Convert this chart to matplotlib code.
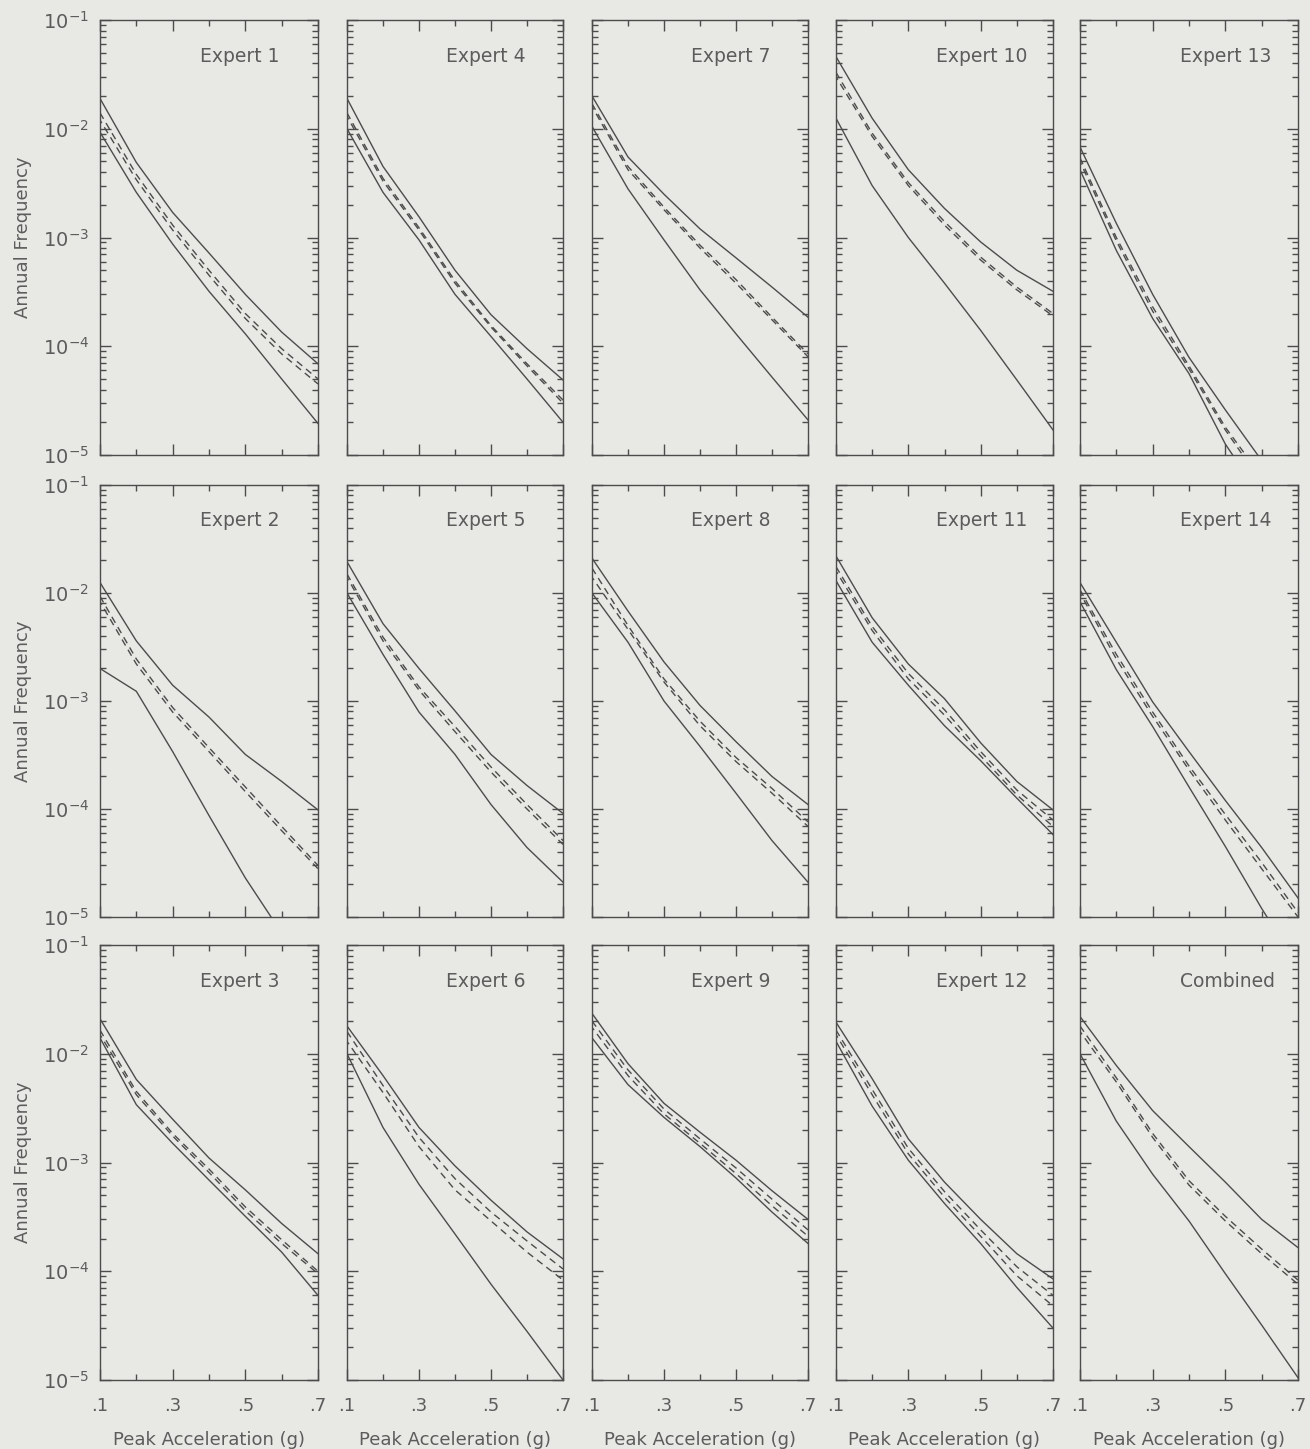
import matplotlib
matplotlib.use("Agg")
import matplotlib.pyplot as plt
from matplotlib.ticker import LogLocator, FixedLocator, NullFormatter, FixedFormatter

# Peak ground acceleration (g) at which each hazard curve is tabulated
accel = [0.1, 0.2, 0.3, 0.4, 0.5, 0.6, 0.7]

# Annual exceedance frequency: upper fractile, two central curves, lower fractile
e1_hi  = [1.9e-2, 4.9e-3, 1.7e-3, 7.2e-4, 3.0e-4, 1.35e-4, 6.9e-5]
e1_c1  = [1.4e-2, 3.8e-3, 1.3e-3, 5.0e-4, 2.0e-4, 9.5e-5, 5.0e-5]
e1_c2  = [1.2e-2, 3.4e-3, 1.17e-3, 4.5e-4, 1.8e-4, 8.5e-5, 4.5e-5]
e1_lo  = [9.3e-3, 2.6e-3, 8.7e-4, 3.2e-4, 1.3e-4, 5.0e-5, 1.95e-5]

e2_hi  = [1.25e-2, 3.6e-3, 1.4e-3, 7.1e-4, 3.2e-4, 1.8e-4, 9.8e-5]
e2_c1  = [9.3e-3, 2.45e-3, 8.7e-4, 3.7e-4, 1.6e-4, 6.9e-5, 3.0e-5]
e2_c2  = [8.3e-3, 2.2e-3, 7.9e-4, 3.4e-4, 1.45e-4, 6.3e-5, 2.8e-5]
e2_lo  = [2.0e-3, 1.23e-3, 3.4e-4, 8.7e-5, 2.3e-5, 7.1e-6, 2.0e-6]

e3_hi  = [2.1e-2, 5.8e-3, 2.5e-3, 1.1e-3, 5.6e-4, 2.75e-4, 1.45e-4]
e3_c1  = [1.65e-2, 4.5e-3, 1.85e-3, 8.7e-4, 3.9e-4, 1.95e-4, 1.0e-4]
e3_c2  = [1.5e-2, 4.2e-3, 1.75e-3, 8.1e-4, 3.6e-4, 1.8e-4, 9.5e-5]
e3_lo  = [1.4e-2, 3.4e-3, 1.5e-3, 6.9e-4, 3.2e-4, 1.5e-4, 6.0e-5]

e4_hi  = [1.9e-2, 4.5e-3, 1.55e-3, 5.0e-4, 1.95e-4, 9.5e-5, 4.9e-5]
e4_c1  = [1.4e-2, 3.5e-3, 1.23e-3, 4.0e-4, 1.55e-4, 6.9e-5, 3.2e-5]
e4_c2  = [1.3e-2, 3.3e-3, 1.17e-3, 3.8e-4, 1.5e-4, 6.6e-5, 3.0e-5]
e4_lo  = [1.0e-2, 2.6e-3, 9.5e-4, 3.0e-4, 1.23e-4, 5.0e-5, 2.0e-5]

e5_hi  = [1.95e-2, 5.2e-3, 2.0e-3, 8.1e-4, 3.2e-4, 1.65e-4, 9.1e-5]
e5_c1  = [1.5e-2, 3.9e-3, 1.35e-3, 5.8e-4, 2.45e-4, 1.1e-4, 5.1e-5]
e5_c2  = [1.4e-2, 3.6e-3, 1.26e-3, 5.2e-4, 2.2e-4, 1.0e-4, 4.7e-5]
e5_lo  = [1.0e-2, 2.7e-3, 7.9e-4, 3.2e-4, 1.1e-4, 4.4e-5, 2.1e-5]

e6_hi  = [1.8e-2, 6.3e-3, 2.1e-3, 9.3e-4, 4.5e-4, 2.3e-4, 1.3e-4]
e6_c1  = [1.6e-2, 5.1e-3, 1.7e-3, 7.1e-4, 3.5e-4, 1.9e-4, 1.05e-4]
e6_c2  = [1.3e-2, 4.4e-3, 1.4e-3, 5.6e-4, 2.9e-4, 1.5e-4, 8.3e-5]
e6_lo  = [1.0e-2, 2.1e-3, 6.3e-4, 2.2e-4, 7.6e-5, 2.8e-5, 1.0e-5]

e7_hi  = [2.0e-2, 5.5e-3, 2.5e-3, 1.2e-3, 6.5e-4, 3.5e-4, 1.85e-4]
e7_c1  = [1.7e-2, 4.5e-3, 1.9e-3, 8.5e-4, 4.1e-4, 1.85e-4, 8.5e-5]
e7_c2  = [1.6e-2, 4.2e-3, 1.8e-3, 8.0e-4, 3.8e-4, 1.75e-4, 8.0e-5]
e7_lo  = [1.05e-2, 2.8e-3, 9.5e-4, 3.3e-4, 1.3e-4, 5.2e-5, 2.1e-5]

e8_hi  = [2.1e-2, 6.8e-3, 2.3e-3, 9.1e-4, 4.2e-4, 2.0e-4, 1.1e-4]
e8_c1  = [1.7e-2, 5.0e-3, 1.6e-3, 6.5e-4, 3.0e-4, 1.55e-4, 7.6e-5]
e8_c2  = [1.4e-2, 4.6e-3, 1.5e-3, 5.9e-4, 2.75e-4, 1.4e-4, 6.9e-5]
e8_lo  = [1.0e-2, 3.5e-3, 1.0e-3, 3.8e-4, 1.4e-4, 5.1e-5, 2.1e-5]

e9_hi  = [2.35e-2, 8.1e-3, 3.5e-3, 1.9e-3, 1.05e-3, 5.5e-4, 3.0e-4]
e9_c1  = [2.0e-2, 7.1e-3, 3.1e-3, 1.65e-3, 8.9e-4, 4.6e-4, 2.4e-4]
e9_c2  = [1.75e-2, 6.3e-3, 2.8e-3, 1.5e-3, 7.9e-4, 4.0e-4, 2.1e-4]
e9_lo  = [1.4e-2, 5.2e-3, 2.6e-3, 1.4e-3, 7.2e-4, 3.5e-4, 1.8e-4]

e10_hi = [4.6e-2, 1.25e-2, 4.2e-3, 1.85e-3, 9.1e-4, 5.0e-4, 3.2e-4]
e10_c1 = [3.3e-2, 9.1e-3, 3.2e-3, 1.4e-3, 6.6e-4, 3.5e-4, 2.0e-4]
e10_c2 = [3.0e-2, 8.5e-3, 3.0e-3, 1.3e-3, 6.2e-4, 3.3e-4, 1.9e-4]
e10_lo = [1.25e-2, 3.0e-3, 1.0e-3, 3.8e-4, 1.4e-4, 4.9e-5, 1.7e-5]

e11_hi = [2.2e-2, 5.9e-3, 2.2e-3, 1.05e-3, 4.1e-4, 1.8e-4, 9.8e-5]
e11_c1 = [1.75e-2, 4.9e-3, 1.8e-3, 8.3e-4, 3.4e-4, 1.5e-4, 7.9e-5]
e11_c2 = [1.6e-2, 4.5e-3, 1.6e-3, 7.4e-4, 3.1e-4, 1.35e-4, 6.9e-5]
e11_lo = [1.3e-2, 3.5e-3, 1.4e-3, 5.9e-4, 2.8e-4, 1.26e-4, 5.8e-5]

e12_hi = [1.95e-2, 5.9e-3, 1.65e-3, 6.6e-4, 3.0e-4, 1.45e-4, 8.5e-5]
e12_c1 = [1.65e-2, 4.7e-3, 1.35e-3, 5.4e-4, 2.4e-4, 1.1e-4, 6.0e-5]
e12_c2 = [1.5e-2, 4.2e-3, 1.2e-3, 4.8e-4, 2.1e-4, 9.1e-5, 4.8e-5]
e12_lo = [1.3e-2, 3.3e-3, 1.05e-3, 4.2e-4, 1.8e-4, 7.1e-5, 3.0e-5]

e13_hi = [6.8e-3, 1.35e-3, 3.0e-4, 7.9e-5, 2.6e-5, 8.9e-6, 3.2e-6]
e13_c1 = [5.4e-3, 1.0e-3, 2.3e-4, 6.6e-5, 1.8e-5, 6.3e-6, 2.0e-6]
e13_c2 = [5.0e-3, 9.3e-4, 2.1e-4, 6.2e-5, 1.7e-5, 5.6e-6, 1.8e-6]
e13_lo = [4.2e-3, 7.6e-4, 1.8e-4, 5.6e-5, 1.26e-5, 4.0e-6, 1.26e-6]

e14_hi = [1.25e-2, 3.5e-3, 9.8e-4, 3.4e-4, 1.2e-4, 4.4e-5, 1.5e-5]
e14_c1 = [1.07e-2, 2.7e-3, 7.9e-4, 2.5e-4, 8.9e-5, 3.2e-5, 1.1e-5]
e14_c2 = [1.0e-2, 2.45e-3, 7.2e-4, 2.3e-4, 7.9e-5, 2.8e-5, 1.0e-5]
e14_lo = [8.3e-3, 1.95e-3, 5.8e-4, 1.6e-4, 4.5e-5, 1.2e-5, 3.5e-6]

comb_hi = [2.2e-2, 7.8e-3, 3.0e-3, 1.4e-3, 6.6e-4, 3.0e-4, 1.65e-4]
comb_c1 = [1.8e-2, 6.0e-3, 1.85e-3, 6.8e-4, 3.2e-4, 1.6e-4, 8.3e-5]
comb_c2 = [1.6e-2, 5.5e-3, 1.7e-3, 6.2e-4, 2.9e-4, 1.45e-4, 7.6e-5]
comb_lo = [1.0e-2, 2.4e-3, 7.8e-4, 2.9e-4, 9.5e-5, 3.2e-5, 1.05e-5]

# Panel titles, laid out column by column (three per column)
titles = ["Expert 1", "Expert 2", "Expert 3",
          "Expert 4", "Expert 5", "Expert 6",
          "Expert 7", "Expert 8", "Expert 9",
          "Expert 10", "Expert 11", "Expert 12",
          "Expert 13", "Expert 14", "Combined"]

curves = [
    (e1_hi, e1_c1, e1_c2, e1_lo), (e2_hi, e2_c1, e2_c2, e2_lo), (e3_hi, e3_c1, e3_c2, e3_lo),
    (e4_hi, e4_c1, e4_c2, e4_lo), (e5_hi, e5_c1, e5_c2, e5_lo), (e6_hi, e6_c1, e6_c2, e6_lo),
    (e7_hi, e7_c1, e7_c2, e7_lo), (e8_hi, e8_c1, e8_c2, e8_lo), (e9_hi, e9_c1, e9_c2, e9_lo),
    (e10_hi, e10_c1, e10_c2, e10_lo), (e11_hi, e11_c1, e11_c2, e11_lo), (e12_hi, e12_c1, e12_c2, e12_lo),
    (e13_hi, e13_c1, e13_c2, e13_lo), (e14_hi, e14_c1, e14_c2, e14_lo), (comb_hi, comb_c1, comb_c2, comb_lo),
]

x_ticks = [0.1, 0.3, 0.5, 0.7]
x_tick_labels = [".1", ".3", ".5", ".7"]
y_decades = [1e-5, 1e-4, 1e-3, 1e-2, 1e-1]
y_tick_labels = [r"$10^{-5}$", r"$10^{-4}$", r"$10^{-3}$", r"$10^{-2}$", r"$10^{-1}$"]

# ---- styling ----
paper = "#e8e8e4"
ink = "#4c4c4c"
text_ink = "#5c5c5c"
plt.rcParams["font.family"] = ["DejaVu Sans"]

W, H = 1310, 1449
fig = plt.figure(figsize=(W / 100, H / 100), dpi=100, facecolor=paper)

col_px = [(100, 318), (347, 563), (592, 808), (836, 1053), (1080, 1298)]
row_px = [(20, 455), (485, 917), (945, 1380)]

for k, (title, (hi, c1, c2, lo)) in enumerate(zip(titles, curves)):
    col, row = divmod(k, 3)
    x0, x1 = col_px[col]
    y0, y1 = row_px[row]
    ax = fig.add_axes([x0 / W, 1 - y1 / H, (x1 - x0) / W, (y1 - y0) / H])
    ax.set_facecolor(paper)
    ax.set_yscale("log")
    ax.set_xlim(0.1, 0.7)
    ax.set_ylim(1e-5, 1e-1)

    ax.plot(accel, hi, color=ink, lw=1.0, solid_joinstyle="round")
    ax.plot(accel, c1, color=ink, lw=1.0, ls=(0, (5, 3.5)))
    ax.plot(accel, c2, color=ink, lw=1.0, ls=(2.5, (5, 3.5)))
    ax.plot(accel, lo, color=ink, lw=1.0, solid_joinstyle="round")

    ax.text(0.46, 0.917, title, transform=ax.transAxes, fontsize=13.5,
            color=text_ink, ha="left", va="center")

    for sp in ax.spines.values():
        sp.set_color(ink)
        sp.set_linewidth(1.0)

    ax.xaxis.set_major_locator(FixedLocator(x_ticks))
    ax.xaxis.set_minor_locator(FixedLocator([0.2, 0.4, 0.6]))
    ax.yaxis.set_major_locator(FixedLocator(y_decades))
    ax.yaxis.set_minor_locator(LogLocator(base=10, subs=range(2, 10), numticks=20))
    ax.yaxis.set_minor_formatter(NullFormatter())
    ax.tick_params(which="both", direction="in", top=True, right=True,
                   colors=ink, labelcolor=text_ink, width=1.0)
    ax.tick_params(which="major", length=8)
    ax.tick_params(which="minor", length=4)

    if col == 0:
        ax.yaxis.set_major_formatter(FixedFormatter(y_tick_labels))
        ax.tick_params(axis="y", labelsize=14, pad=8)
        ax.set_ylabel("Annual Frequency", fontsize=13, color=text_ink, labelpad=8)
    else:
        ax.yaxis.set_major_formatter(NullFormatter())

    if row == 2:
        ax.xaxis.set_major_formatter(FixedFormatter(x_tick_labels))
        ax.tick_params(axis="x", labelsize=13, pad=12)
        ax.set_xlabel("Peak Acceleration (g)", fontsize=13, color=text_ink, labelpad=12)
    else:
        ax.xaxis.set_major_formatter(NullFormatter())

fig.savefig("out.png", dpi=100, facecolor=paper)
